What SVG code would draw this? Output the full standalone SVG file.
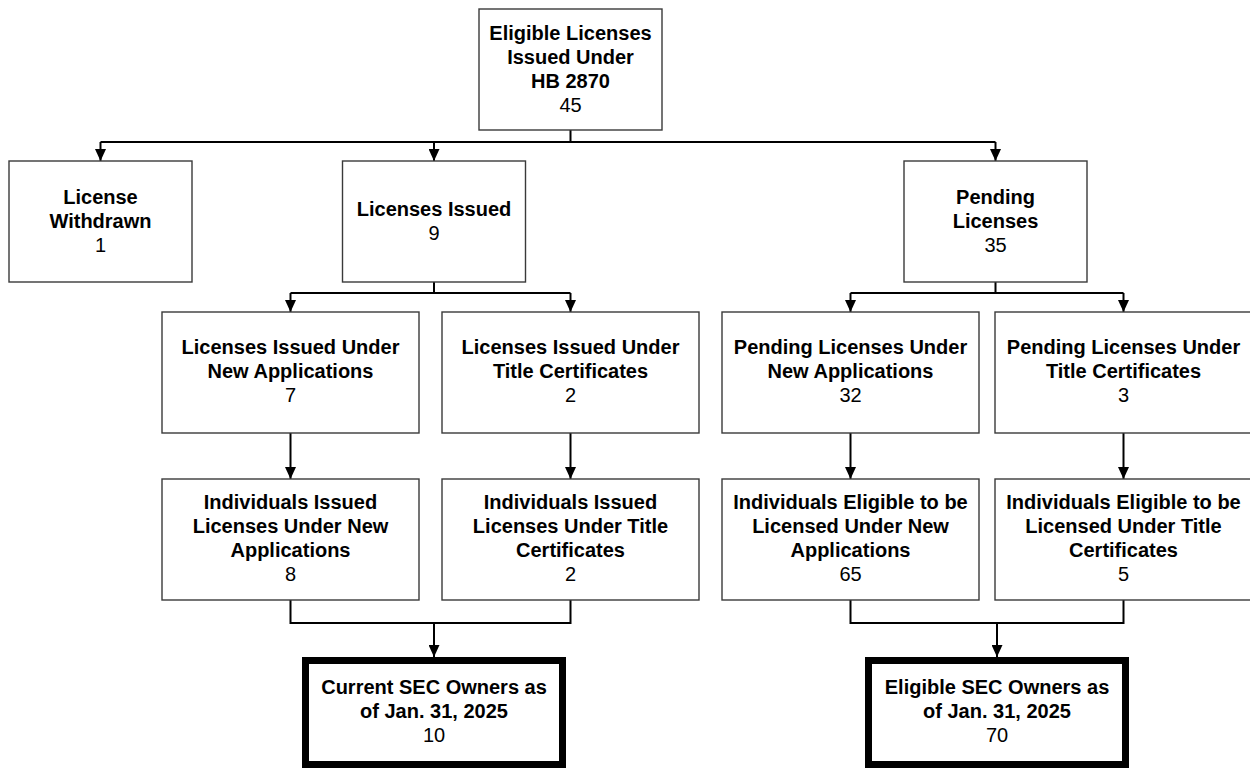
<svg xmlns="http://www.w3.org/2000/svg" width="1250" height="768" viewBox="0 0 1250 768">
<style>
.box{fill:#ffffff;stroke:#3a3a3a;stroke-width:1.4}
.sec{fill:#ffffff;stroke:#000000;stroke-width:7}
.b{font-family:"Liberation Sans",Arial,sans-serif;font-size:20px;font-weight:bold;fill:#000;text-anchor:middle}
.n{font-family:"Liberation Sans",Arial,sans-serif;font-size:20px;fill:#000;text-anchor:middle}
.c{fill:none;stroke:#000;stroke-width:2}
.ca{fill:none;stroke:#000;stroke-width:2;marker-end:url(#arr)}
</style>
<defs>
<marker id="arr" viewBox="0 0 12 11" refX="12" refY="5.5" markerWidth="12" markerHeight="11" markerUnits="userSpaceOnUse" orient="auto">
<path d="M0,0 L12,5.5 L0,11 z" fill="#000"/>
</marker>
</defs>
<rect width="1250" height="768" fill="#ffffff"/>
<g id="connectors">
<path class="c" d="M570.5,130 V142 M100.5,142 H995.5"/>
<path class="ca" d="M100.5,142 V161"/>
<path class="ca" d="M434,142 V161"/>
<path class="ca" d="M995.5,142 V161"/>
<path class="c" d="M434,282 V293 M290.5,293 H570.5"/>
<path class="ca" d="M290.5,293 V312"/>
<path class="ca" d="M570.5,293 V312"/>
<path class="c" d="M995.5,282 V293 M850.5,293 H1123.5"/>
<path class="ca" d="M850.5,293 V312"/>
<path class="ca" d="M1123.5,293 V312"/>
<path class="ca" d="M290.5,433 V479"/>
<path class="ca" d="M570.5,433 V479"/>
<path class="ca" d="M850.5,433 V479"/>
<path class="ca" d="M1123.5,433 V479"/>
<path class="c" d="M290.5,600 V623 H570.5 V600"/>
<path class="ca" d="M434,623 V657"/>
<path class="c" d="M850.5,600 V623 H1123.5 V600"/>
<path class="ca" d="M997,623 V657"/>
</g>
<g id="n-top">
<rect class="box" x="479" y="9" width="183" height="121"/>
<text class="b" x="570.5" y="39.5">Eligible Licenses</text>
<text class="b" x="570.5" y="63.5">Issued Under</text>
<text class="b" x="570.5" y="87.5">HB 2870</text>
<text class="n" x="570.5" y="111.5">45</text>
</g>
<g id="n-withdrawn">
<rect class="box" x="9" y="161" width="183" height="121"/>
<text class="b" x="100.5" y="203.5">License</text>
<text class="b" x="100.5" y="227.5">Withdrawn</text>
<text class="n" x="100.5" y="251.5">1</text>
</g>
<g id="n-issued">
<rect class="box" x="342.5" y="161" width="183" height="121"/>
<text class="b" x="434" y="215.5">Licenses Issued</text>
<text class="n" x="434" y="239.5">9</text>
</g>
<g id="n-pending">
<rect class="box" x="904" y="161" width="183" height="121"/>
<text class="b" x="995.5" y="203.5">Pending</text>
<text class="b" x="995.5" y="227.5">Licenses</text>
<text class="n" x="995.5" y="251.5">35</text>
</g>
<g id="n-issued-new">
<rect class="box" x="162" y="312" width="257" height="121"/>
<text class="b" x="290.5" y="354">Licenses Issued Under</text>
<text class="b" x="290.5" y="378">New Applications</text>
<text class="n" x="290.5" y="402">7</text>
</g>
<g id="n-issued-title">
<rect class="box" x="442" y="312" width="257" height="121"/>
<text class="b" x="570.5" y="354">Licenses Issued Under</text>
<text class="b" x="570.5" y="378">Title Certificates</text>
<text class="n" x="570.5" y="402">2</text>
</g>
<g id="n-pending-new">
<rect class="box" x="722" y="312" width="257" height="121"/>
<text class="b" x="850.5" y="354">Pending Licenses Under</text>
<text class="b" x="850.5" y="378">New Applications</text>
<text class="n" x="850.5" y="402">32</text>
</g>
<g id="n-pending-title">
<rect class="box" x="995" y="312" width="257" height="121"/>
<text class="b" x="1123.5" y="354">Pending Licenses Under</text>
<text class="b" x="1123.5" y="378">Title Certificates</text>
<text class="n" x="1123.5" y="402">3</text>
</g>
<g id="n-ind-issued-new">
<rect class="box" x="162" y="479" width="257" height="121"/>
<text class="b" x="290.5" y="509">Individuals Issued</text>
<text class="b" x="290.5" y="533">Licenses Under New</text>
<text class="b" x="290.5" y="557">Applications</text>
<text class="n" x="290.5" y="581">8</text>
</g>
<g id="n-ind-issued-title">
<rect class="box" x="442" y="479" width="257" height="121"/>
<text class="b" x="570.5" y="509">Individuals Issued</text>
<text class="b" x="570.5" y="533">Licenses Under Title</text>
<text class="b" x="570.5" y="557">Certificates</text>
<text class="n" x="570.5" y="581">2</text>
</g>
<g id="n-ind-elig-new">
<rect class="box" x="722" y="479" width="257" height="121"/>
<text class="b" x="850.5" y="509">Individuals Eligible to be</text>
<text class="b" x="850.5" y="533">Licensed Under New</text>
<text class="b" x="850.5" y="557">Applications</text>
<text class="n" x="850.5" y="581">65</text>
</g>
<g id="n-ind-elig-title">
<rect class="box" x="995" y="479" width="257" height="121"/>
<text class="b" x="1123.5" y="509">Individuals Eligible to be</text>
<text class="b" x="1123.5" y="533">Licensed Under Title</text>
<text class="b" x="1123.5" y="557">Certificates</text>
<text class="n" x="1123.5" y="581">5</text>
</g>
<g id="n-current-sec">
<rect class="sec" x="305.5" y="660.5" width="257" height="104"/>
<text class="b" x="434" y="694">Current SEC Owners as</text>
<text class="b" x="434" y="718">of Jan. 31, 2025</text>
<text class="n" x="434" y="742">10</text>
</g>
<g id="n-eligible-sec">
<rect class="sec" x="868.5" y="660.5" width="257" height="104"/>
<text class="b" x="997" y="694">Eligible SEC Owners as</text>
<text class="b" x="997" y="718">of Jan. 31, 2025</text>
<text class="n" x="997" y="742">70</text>
</g>
</svg>
